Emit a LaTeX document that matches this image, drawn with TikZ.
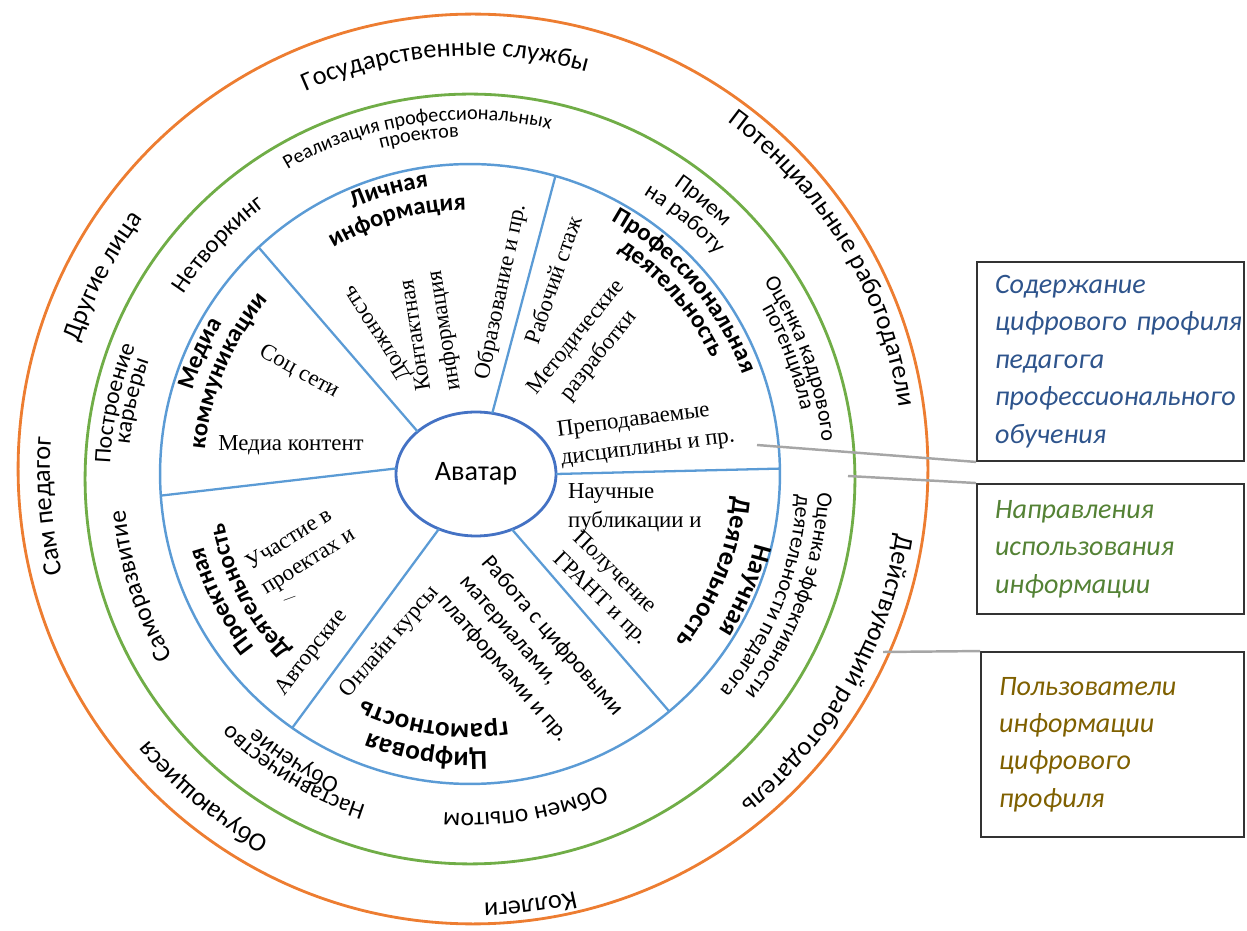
\documentclass[tikz,border=0pt]{standalone}
\usepackage{fontspec}
\setmainfont{Liberation Serif}
\setsansfont{Carlito}
\usetikzlibrary{calc, shapes.geometric, decorations.text}

\definecolor{ringorange}{RGB}{237,125,49}
\definecolor{ringgreen}{RGB}{112,173,71}
\definecolor{ringblue}{RGB}{91,155,213}
\definecolor{avablue}{RGB}{68,114,196}
\definecolor{linkgray}{RGB}{166,166,166}
\definecolor{txtblue}{RGB}{46,84,140}
\definecolor{txtgreen}{RGB}{84,130,53}
\definecolor{txtgold}{RGB}{127,96,0}

% text set along a ring, read clockwise
\newcommand\arclabel[5]{%
  \path[decorate, decoration={text along path, text align=center,
      text={|\sffamily\fontsize{#4}{#4}\selectfont|#5}}]
    ($(#1)+(#3+90:#2)$) arc[start angle=#3+90, end angle=#3-90, radius=#2];}
\newcommand\arctitle[5]{%
  \path[decorate, decoration={text along path, text align=center,
      text={|\sffamily\bfseries\fontsize{#4}{#4}\selectfont|#5}}]
    ($(#1)+(#3+90:#2)$) arc[start angle=#3+90, end angle=#3-90, radius=#2];}

\tikzset{ring/.style={circle, line width=1.6pt, outer sep=0pt, inner sep=0pt},
         avatar/.style={ellipse, draw=avablue, line width=1.6pt, fill=white,
                        minimum width=3.2cm, minimum height=2.48cm, outer sep=0pt,
                        font=\sffamily\fontsize{16}{19}\selectfont},
         divider/.style={draw=ringblue, line width=1.3pt},
         item/.style={font=\rmfamily\fontsize{13}{16.5}\selectfont, inner sep=1pt},
         sitem/.style={font=\sffamily\fontsize{13}{16.5}\selectfont, inner sep=1pt},
         infobox/.style={draw=black!80, line width=1.1pt, text width=4.62cm,
                         inner xsep=0.36cm, inner ysep=0pt, align=left,
                         font=\sffamily\itshape\fontsize{16}{21.3}\selectfont},
         link/.style={draw=linkgray, line width=1.4pt},
         }

\begin{document}
\begin{tikzpicture}[x=0.02cm, y=0.02cm]
  \useasboundingbox (0,0) rectangle (1247,930);
  \coordinate (oc) at (473,461);
  \coordinate (gc) at (470,451);
  \coordinate (bc) at (470,456);

  % rings
  \node[ring, draw=ringorange, minimum size=18.2cm] (users) at (oc) {};
  \node[ring, draw=ringgreen, minimum size=15.4cm] (uses) at (gc) {};
  \node[ring, draw=ringblue, line width=1.4pt, minimum size=12.4cm] (content) at (bc) {};
  \node[avatar] (ava) at (476,456) {Аватар};

  % sectors
  \draw[divider] (ava.144) -- (content.133);
  \draw[divider] (ava.75) -- (content.74);
  \draw[divider] (ava.0) -- (content.1);
  \draw[divider] (ava.303) -- (content.310);
  \draw[divider] (ava.236) -- (content.235);
  \draw[divider] (ava.176) -- (content.184);

  % users of the profile
  \arclabel{oc}{413}{94}{15}{Государственные службы}
  \arclabel{oc}{430}{31}{15}{Потенциальные работодатели}
  \arclabel{oc}{428}{-30}{15}{Действующий работодатель}
  \arclabel{oc}{434}{-82.5}{15}{Коллеги}
  \arclabel{oc}{423}{-129.5}{15}{Обучающиеся}
  \arclabel{oc}{423}{185}{15}{Сам педагог}
  \arclabel{oc}{414}{152.5}{15}{Другие лица}

  % directions of use
  \arclabel{gc}{359}{98.8}{11.5}{Реализация профессиональных}
  \arclabel{gc}{342}{98.5}{11.5}{проектов}
  \arclabel{gc}{341}{137}{14}{Нетворкинг}
  \arclabel{gc}{360}{168}{13.5}{Построение}
  \arclabel{gc}{342}{167}{13.5}{карьеры}
  \arclabel{gc}{346}{198}{14.5}{Саморазвитие}
  \arclabel{gc}{343}{239}{13.5}{Наставничество}
  \arclabel{gc}{328}{238}{13.5}{Обучение}
  \arclabel{gc}{334}{-80.5}{14.5}{Обмен опытом}
  \arclabel{gc}{348}{-20}{12.5}{Оценка эффективности}
  \arclabel{gc}{327}{-21.5}{12.5}{деятельности педагога}
  \arclabel{gc}{354}{20}{12.5}{Оценка кадрового}
  \arclabel{gc}{338}{21}{12.5}{потенциала}
  \arclabel{gc}{357}{50}{13}{Прием}
  \arclabel{gc}{333}{50.5}{13}{на работу}

  % sector titles
  \arctitle{bc}{290}{106}{14}{Личная}
  \arctitle{bc}{264}{106}{14}{информация}
  \arctitle{bc}{290}{40.5}{14}{Профессиональная}
  \arctitle{bc}{268}{41}{14}{деятельность}
  \arctitle{bc}{294}{-23}{15}{Научная}
  \arctitle{bc}{264}{-22}{15}{Деятельность}
  \arctitle{bc}{278}{-99}{15.5}{Цифровая}
  \arctitle{bc}{250}{-98.3}{15.5}{грамотность}
  \arctitle{bc}{276}{207}{14}{Проектная}
  \arctitle{bc}{251}{208}{14}{Деятельность}
  \arctitle{bc}{290}{156}{14}{Медиа}
  \arctitle{bc}{266}{157}{14}{коммуникации}

  % profile content
  \node[item, rotate=123] (post) at (378,597) {Должность};
  \node[item, rotate=99, align=center] (contact) at (431,597) {Контактная\\информация};
  \node[item, rotate=78] (edu) at (501,638) {Образование и пр.};
  \node[item, rotate=71] (stage) at (553,650) {Рабочий стаж};
  \node[item, rotate=51, align=center] (method) at (588,583) {Методические\\разработки};
  \node[item, rotate=7.6, align=left] (disc) at (646,496) {Преподаваемые\\дисциплины и пр.};
  \node[item, rotate=-29] (social) at (299,558) {Соц сети};
  \node[item] (mediacont) at (291,485) {Медиа контент};
  \node[item, anchor=north west, align=left] (sci) at (566,449) {Научные\\публикации и};
  \node[item, rotate=-44, align=left] (grant) at (610,341) {Получение\\ГРАНТ и пр.};
  \node[sitem, rotate=-49, align=left] (digital) at (530,275) {Работа с цифровыми\\материалами,\\платформами и пр.};
  \node[item, rotate=49.5] (online) at (390,288) {Онлайн курсы};
  \node[item, rotate=52] (author) at (312,277) {Авторские};
  \node[item, rotate=32, align=left] (part) at (301,380) {Участие в\\проектах и};
  \node[item, rotate=20, font=\rmfamily\fontsize{7}{8}\selectfont] (partmore) at (290,330) {—};

  % legend
  \node[infobox, text=txtblue, minimum height=3.98cm] (box1) at (1110.5,568.5)
    {Содержание\\\mbox{цифрового профиля}\\педагога\\\mbox{профессионального}\\обучения};
  \node[infobox, text=txtgreen, minimum height=2.6cm] (box2) at (1110.5,381)
    {Направления\\использования\\информации};
  \node[infobox, text=txtgold, text width=4.54cm, minimum height=3.7cm] (box3) at (1112.5,185.5)
    {Пользователи\\информации\\цифрового\\профиля};

  \coordinate (discend) at (757,485);
  \coordinate (ringend) at (848,454);
  \coordinate (userend) at (883,278);
  \draw[link] (discend) -- (box1.south west);
  \draw[link] (ringend) -- (box2.north west);
  \draw[link] (userend) -- (box3.north west);
\end{tikzpicture}
\end{document}
